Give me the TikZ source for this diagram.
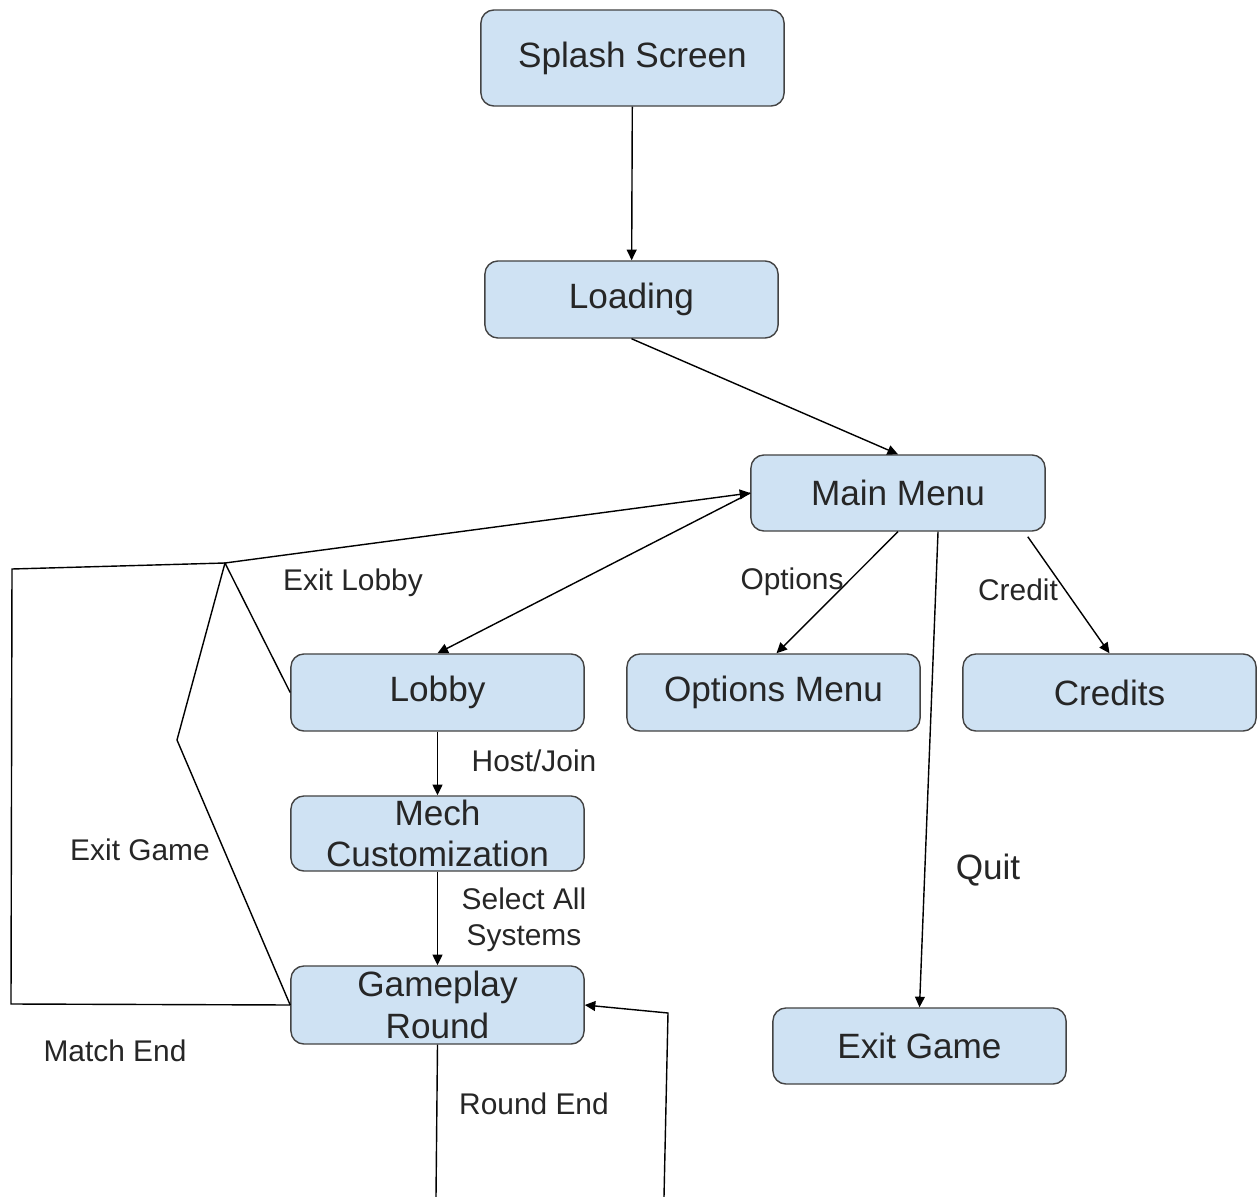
\documentclass[tikz,border=0pt]{standalone}
\usepackage{fontspec}
\setmainfont{Liberation Sans}
\usetikzlibrary{arrows.meta,positioning}
\definecolor{boxblue}{RGB}{207,226,243}
\definecolor{boxline}{RGB}{67,67,67}

\tikzset{
  screen/.style={draw=boxline, fill=boxblue, rounded corners=0.13cm, align=center,
    inner sep=0pt, font=\fontsize{10}{11.8}\selectfont},
  lbl/.style={align=center, font=\fontsize{8.5}{10.2}\selectfont},
  flow/.style={-{Triangle[length=3pt,width=2.8pt]}},
}

\begin{document}
\begin{tikzpicture}[x=0.01cm,y=-0.01cm,text=black!85,thin]
  \useasboundingbox (0,0) rectangle (1257,1197);
  % screens
  \foreach \n/\x/\y/\w/\h/\t in {splash/632.5/58/3.03/0.96/Splash Screen,
      loading/631.5/299.5/2.93/0.77/Loading, mainmenu/898/493/2.94/0.76/Main Menu,
      lobby/437.5/692.5/2.93/0.77/Lobby, optmenu/773.5/692.5/2.93/0.77/Options Menu,
      credits/1109.5/692.5/2.93/0.77/Credits, mech/437.5/833.5/2.93/0.75/{Mech\\Customization},
      gameplay/437.5/1005/2.93/0.78/{Gameplay\\Round}, exitgame/919.5/1046/2.93/0.76/Exit Game}
    \node[screen, minimum width=\w cm, minimum height=\h cm] (\n) at (\x,\y) {\t};

  % bends of the back edges
  \coordinate (jn) at (225,563);
  \coordinate (kink) at (177,740);
  \coordinate (farup) at (12,569);
  \coordinate (fardown) at (11,1004);
  \coordinate (loopin) at (668,1013);
  \coordinate (outa) at (436,1197);
  \coordinate (outb) at (664,1197);

  \draw[flow] (splash) -- (loading);
  \draw[flow] (loading.south) -- (mainmenu.north);
  \draw[flow] (mainmenu.west) -- (lobby.north);
  \draw[flow] (mainmenu.south) -- ([xshift=0.03cm]optmenu.north);
  \draw[flow] ([xshift=-0.18cm,yshift=-0.05cm]mainmenu.south east) -- (credits.north);
  \draw[flow] ([xshift=0.4cm]mainmenu.south) -- (exitgame.north);
  \draw[flow] (lobby) -- (mech);
  \draw[flow] (mech) -- (gameplay);
  \draw[flow] (lobby.west) -- (jn) -- (mainmenu.west);
  \draw (gameplay.west) -- (kink) -- (jn);
  \draw (gameplay.west) -- (fardown) -- (farup) -- (jn);
  \draw (gameplay.south) -- (outa);
  \draw[flow] (outb) -- (loopin) -- (gameplay.east);

  % labels
  \node[lbl] (lexitlobby) at (353,583) {Exit Lobby};
  \node[lbl] (loptions) at (792,582) {Options};
  \node[lbl] (lcredit) at (1018,590) {Credit};
  \node[lbl, font=\fontsize{10}{12}\selectfont] (lquit) at (988,870) {Quit};
  \node[lbl] (lhost) at (534,761) {Host/Join};
  \node[lbl] (lselect) at (524,920) {Select All\\Systems};
  \node[lbl] (lexitgame) at (140,850) {Exit Game};
  \node[lbl] (lmatch) at (115,1051) {Match End};
  \node[lbl] (lround) at (534,1104) {Round End};
\end{tikzpicture}
\end{document}
